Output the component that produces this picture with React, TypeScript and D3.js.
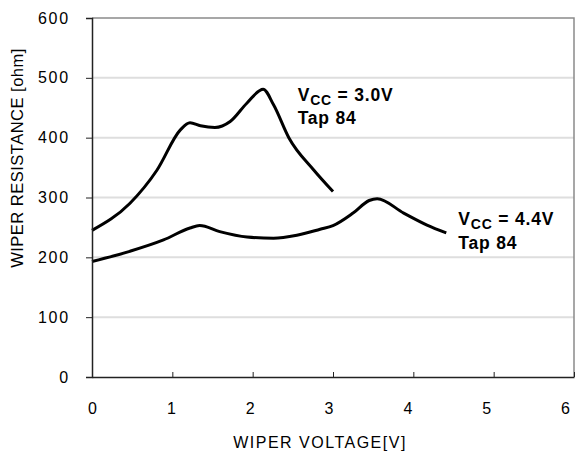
import { useEffect, useRef } from "react";
import * as d3 from "d3";

const xTicks = [0, 1, 2, 3, 4, 5, 6];
const yTicks = [0, 100, 200, 300, 400, 500, 600];

// Vcc = 3.0V, Tap 84
const v30 = [0, 0.47, 0.81, 1.1, 1.22, 1.35, 1.53, 1.72, 1.93, 2.13, 2.26, 2.45, 2.76, 3.0];
const r30 = [245, 290, 346, 413, 425, 420, 417, 427, 458, 481, 455, 400, 346, 310];

// Vcc = 4.4V, Tap 84
const v44 = [0, 0.47, 0.89, 1.22, 1.34, 1.59, 1.93, 2.26, 2.55, 2.84, 3.0, 3.25, 3.45, 3.55, 3.88, 4.17, 4.41];
const r44 = [193, 210, 229, 249, 253, 243, 234, 232, 237, 247, 253, 274, 295, 298, 274, 254, 241];

const labels = [
  { x: 2.56, y: 462, v: "3.0V" },
  { x: 4.56, y: 254, v: "4.4V" },
];

export default function App() {
  const svgRef = useRef<SVGSVGElement>(null);

  useEffect(() => {
    const width = 576;
    const height = 451;
    const left = 92;
    const right = 574;
    const top = 18;
    const bottom = 377;
    const font = "Arial, 'Liberation Sans', sans-serif";

    const x = d3.scaleLinear().domain([0, 6]).range([left, right]);
    const y = d3.scaleLinear().domain([0, 600]).range([bottom, top]);

    const svg = d3.select(svgRef.current)
      .attr("width", width)
      .attr("height", height)
      .style("font-family", font);
    svg.selectAll("*").remove();

    // gridlines
    svg.append("g")
      .selectAll("line")
      .data(yTicks.filter(d => d > 0 && d < 600))
      .enter()
      .append("line")
      .attr("x1", left)
      .attr("x2", right)
      .attr("y1", d => y(d))
      .attr("y2", d => y(d))
      .attr("stroke", "#dedede")
      .attr("stroke-width", 2);

    // top and right border
    svg.append("path")
      .attr("d", `M${left},${top}H${right}V${bottom}`)
      .attr("fill", "none")
      .attr("stroke", "#8a8a8a")
      .attr("stroke-width", 1.5);

    const line = d3.line<[number, number]>()
      .x(d => x(d[0]))
      .y(d => y(d[1]))
      .curve(d3.curveMonotoneX);

    const series = [
      v30.map((v, i) => [v, r30[i]] as [number, number]),
      v44.map((v, i) => [v, r44[i]] as [number, number]),
    ];

    svg.append("g")
      .selectAll("path")
      .data(series)
      .enter()
      .append("path")
      .attr("d", d => line(d))
      .attr("fill", "none")
      .attr("stroke", "black")
      .attr("stroke-width", 3)
      .attr("stroke-linejoin", "round");

    // y axis
    const yAxis = svg.append("g")
      .attr("transform", `translate(${left},0)`)
      .call(d3.axisLeft(y).tickValues(yTicks).tickSize(6).tickPadding(16));
    yAxis.select(".domain").attr("stroke", "#222").attr("stroke-width", 1.5);
    yAxis.selectAll(".tick line").attr("stroke", "#222");
    yAxis.selectAll("text")
      .attr("font-size", 16)
      .attr("font-family", font)
      .attr("letter-spacing", 1.8)
      .attr("fill", "#000");

    // x axis, ticks point inward
    const xAxis = svg.append("g")
      .attr("transform", `translate(0,${bottom})`)
      .call(d3.axisBottom(x).tickValues(xTicks).tickFormat(d3.format("d")).tickSizeInner(-5).tickSizeOuter(0));
    xAxis.select(".domain").attr("stroke", "#222").attr("stroke-width", 1.5);
    xAxis.selectAll(".tick line").attr("stroke", "#222");
    xAxis.selectAll<SVGTextElement, number>("text")
      .attr("font-size", 16)
      .attr("font-family", font)
      .attr("fill", "#000")
      .attr("dy", null)
      .attr("y", 37)
      .attr("dx", d => -d * 1.5);

    svg.append("text")
      .attr("x", 320)
      .attr("y", 448)
      .attr("text-anchor", "middle")
      .attr("font-size", 16)
      .attr("letter-spacing", 1.5)
      .attr("fill", "#000")
      .text("WIPER VOLTAGE[V]");

    svg.append("text")
      .attr("transform", `translate(23,158) rotate(-90)`)
      .attr("text-anchor", "middle")
      .attr("font-size", 16.5)
      .attr("letter-spacing", 0.5)
      .attr("fill", "#000")
      .text("WIPER RESISTANCE [ohm]");

    // annotations
    labels.forEach(l => {
      const tx = x(l.x);
      const ty = y(l.y);
      const t = svg.append("text")
        .attr("x", tx)
        .attr("y", ty)
        .attr("font-size", 17.5)
        .attr("font-weight", "bold")
        .attr("letter-spacing", 0.8)
        .attr("fill", "#000");
      t.append("tspan").text("V");
      t.append("tspan").attr("font-size", 14).attr("dy", 4).text("CC");
      t.append("tspan").attr("dy", -4).text(` = ${l.v}`);
      svg.append("text")
        .attr("x", tx)
        .attr("y", ty + 23.5)
        .attr("font-size", 17.5)
        .attr("font-weight", "bold")
        .attr("letter-spacing", 0.8)
        .attr("fill", "#000")
        .text("Tap 84");
    });
  }, []);

  return <svg ref={svgRef} style={{ display: "block", position: "absolute", left: 0, top: 0 }}></svg>;
}
